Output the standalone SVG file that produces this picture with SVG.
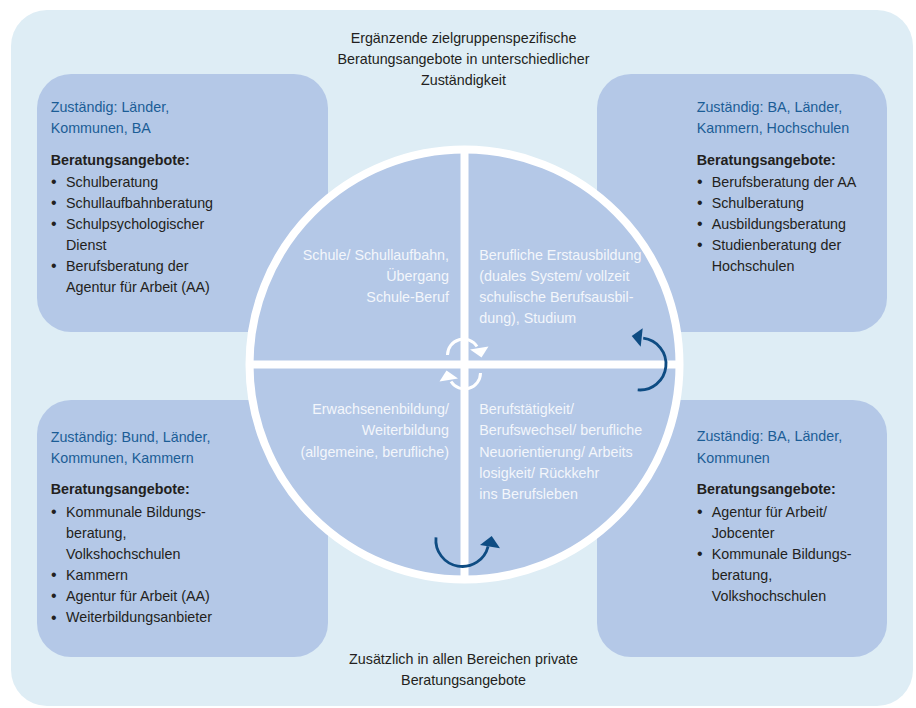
<svg xmlns="http://www.w3.org/2000/svg" width="916" height="708" viewBox="0 0 916 708">
<style>
text{font-family:"Liberation Sans",Arial,sans-serif;font-size:14.3px;}
.t{fill:#231f20;}
.bl{fill:#231f20;font-size:16px;}
.h{fill:#1b5d96;}
.b{fill:#231f20;font-weight:bold;}
.w{fill:#f3f6fb;}
.box{fill:#b4c8e7;}
.wl{stroke:#ffffff;stroke-width:8;fill:none;}
.warc{stroke:#ffffff;stroke-width:3;fill:none;}
.darc{stroke:#0e4c83;stroke-width:2.8;fill:none;}
</style>
<rect id="background" x="11" y="10" width="902" height="696" rx="36" ry="36" fill="#deedf5"/>
<g id="title">
<text class="t" x="463.5" y="43" text-anchor="middle">Ergänzende zielgruppenspezifische</text>
<text class="t" x="463.5" y="64" text-anchor="middle">Beratungsangebote in unterschiedlicher</text>
<text class="t" x="463.5" y="85" text-anchor="middle">Zuständigkeit</text>
</g>
<g id="box-tl">
<rect class="box" x="37" y="74" width="291" height="258" rx="34" ry="34"/>
<text class="h" x="50.7" y="111.5">Zuständig: Länder,</text>
<text class="h" x="50.7" y="133">Kommunen, BA</text>
<text class="b" x="50.7" y="164.5">Beratungsangebote:</text>
<text class="bl" x="51" y="187">•</text><text class="t" x="66" y="186.5">Schulberatung</text>
<text class="bl" x="51" y="208.1">•</text><text class="t" x="66" y="207.6">Schullaufbahnberatung</text>
<text class="bl" x="51" y="229.2">•</text><text class="t" x="66" y="228.7">Schulpsychologischer</text>
<text class="t" x="66" y="249.8">Dienst</text>
<text class="bl" x="51" y="271.4">•</text><text class="t" x="66" y="270.9">Berufsberatung der</text>
<text class="t" x="66" y="292">Agentur für Arbeit (AA)</text>
</g>
<g id="box-tr">
<rect class="box" x="597" y="74" width="290" height="258" rx="34" ry="34"/>
<text class="h" x="696.7" y="111.5">Zuständig: BA, Länder,</text>
<text class="h" x="696.7" y="133">Kammern, Hochschulen</text>
<text class="b" x="696.7" y="164.5">Beratungsangebote:</text>
<text class="bl" x="697" y="187">•</text><text class="t" x="711.7" y="186.5">Berufsberatung der AA</text>
<text class="bl" x="697" y="208.1">•</text><text class="t" x="711.7" y="207.6">Schulberatung</text>
<text class="bl" x="697" y="229.2">•</text><text class="t" x="711.7" y="228.7">Ausbildungsberatung</text>
<text class="bl" x="697" y="250.3">•</text><text class="t" x="711.7" y="249.8">Studienberatung der</text>
<text class="t" x="711.7" y="270.9">Hochschulen</text>
</g>
<g id="box-bl">
<rect class="box" x="37" y="400" width="291" height="257" rx="34" ry="34"/>
<text class="h" x="50.7" y="441.5">Zuständig: Bund, Länder,</text>
<text class="h" x="50.7" y="463">Kommunen, Kammern</text>
<text class="b" x="50.7" y="494.3">Beratungsangebote:</text>
<text class="bl" x="51" y="517">•</text><text class="t" x="66" y="516.5">Kommunale Bildungs-</text>
<text class="t" x="66" y="537.6">beratung,</text>
<text class="t" x="66" y="558.7">Volkshochschulen</text>
<text class="bl" x="51" y="580.3">•</text><text class="t" x="66" y="579.8">Kammern</text>
<text class="bl" x="51" y="601.4">•</text><text class="t" x="66" y="600.9">Agentur für Arbeit (AA)</text>
<text class="bl" x="51" y="622.5">•</text><text class="t" x="66" y="622">Weiterbildungsanbieter</text>
</g>
<g id="box-br">
<rect class="box" x="597" y="400" width="290" height="257" rx="34" ry="34"/>
<text class="h" x="696.7" y="441">Zuständig: BA, Länder,</text>
<text class="h" x="696.7" y="462.5">Kommunen</text>
<text class="b" x="696.7" y="494.3">Beratungsangebote:</text>
<text class="bl" x="697" y="517">•</text><text class="t" x="711.7" y="516.5">Agentur für Arbeit/</text>
<text class="t" x="711.7" y="537.6">Jobcenter</text>
<text class="bl" x="697" y="559.2">•</text><text class="t" x="711.7" y="558.7">Kommunale Bildungs-</text>
<text class="t" x="711.7" y="579.8">beratung,</text>
<text class="t" x="711.7" y="600.9">Volkshochschulen</text>
</g>
<g id="wheel">
<circle cx="464.5" cy="364.5" r="215" fill="#b4c8e7" stroke="#ffffff" stroke-width="8"/>
<line class="wl" x1="464.5" y1="150" x2="464.5" y2="579"/>
<line class="wl" x1="250" y1="364.5" x2="679" y2="364.5"/>
</g>
<g id="q-schule">
<text class="w" x="449" y="260" text-anchor="end">Schule/ Schullaufbahn,</text>
<text class="w" x="449" y="281" text-anchor="end">Übergang</text>
<text class="w" x="449" y="302" text-anchor="end">Schule-Beruf</text>
</g>
<g id="q-ausbildung">
<text class="w" x="479.3" y="260">Berufliche Erstausbildung</text>
<text class="w" x="479.3" y="281">(duales System/ vollzeit</text>
<text class="w" x="479.3" y="302">schulische Berufsausbil-</text>
<text class="w" x="479.3" y="323">dung), Studium</text>
</g>
<g id="q-weiterbildung">
<text class="w" x="449" y="414" text-anchor="end">Erwachsenenbildung/</text>
<text class="w" x="449" y="435" text-anchor="end">Weiterbildung</text>
<text class="w" x="449" y="456.5" text-anchor="end">(allgemeine, berufliche)</text>
</g>
<g id="q-beruf">
<text class="w" x="479.3" y="413.5">Berufstätigkeit/</text>
<text class="w" x="479.3" y="435">Berufswechsel/ berufliche</text>
<text class="w" x="479.3" y="456.5">Neuorientierung/ Arbeits</text>
<text class="w" x="479.3" y="477.5">losigkeit/ Rückkehr</text>
<text class="w" x="479.3" y="498.5">ins Berufsleben</text>
</g>
<g id="footer">
<text class="t" x="463.5" y="664" text-anchor="middle">Zusätzlich in allen Bereichen private</text>
<text class="t" x="463.5" y="685" text-anchor="middle">Beratungsangebote</text>
</g>
<g id="connectors">
<g id="center-cycle">
<path class="warc" d="M447.5,355 A16,16 0 0 1 477,346.5"/>
<polygon fill="#ffffff" points="470,349.5 488.5,346.5 481.5,357.5"/>
<g transform="rotate(180 464 364)">
<path class="warc" d="M447.5,355 A16,16 0 0 1 477,346.5"/>
<polygon fill="#ffffff" points="470,349.5 488.5,346.5 481.5,357.5"/>
</g>
</g>
<path class="darc" d="M637.7,389.9 A26,26 0 0 0 643.2,338.2"/>
<polygon fill="#0e4c83" points="631.7,336 642.7,328.3 640.7,346.7"/>
<path class="darc" d="M436,537.3 A26.5,26.5 0 0 0 488.1,546.3"/>
<polygon fill="#0e4c83" points="480,545 500,548.3 491.7,536"/>
</g>
</svg>
